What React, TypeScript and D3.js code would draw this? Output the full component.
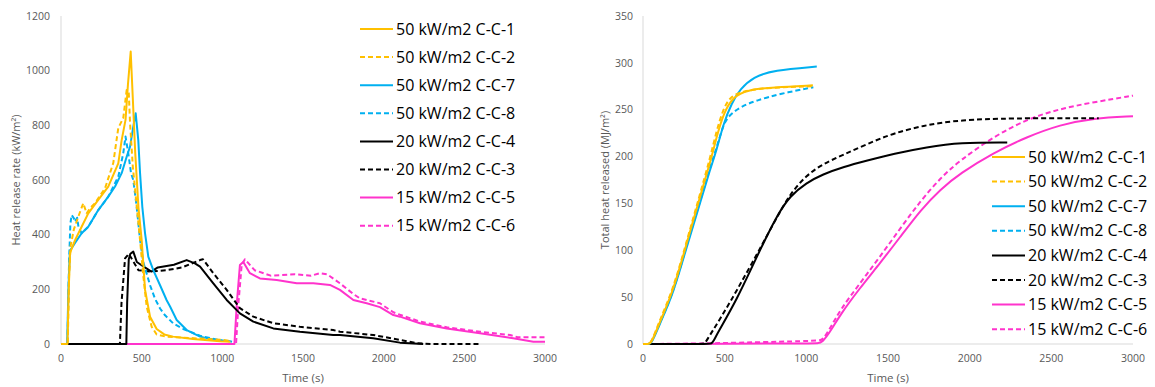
import React from "react";
import * as d3 from "d3";

type P = [number, number];

// Legend labels
const labels = [
  "50 kW/m2 C-C-1",
  "50 kW/m2 C-C-2",
  "50 kW/m2 C-C-7",
  "50 kW/m2 C-C-8",
  "20 kW/m2 C-C-4",
  "20 kW/m2 C-C-3",
  "15 kW/m2 C-C-5",
  "15 kW/m2 C-C-6",
];
const colors = ["#FFC000", "#FFC000", "#00B0F0", "#00B0F0", "#000000", "#000000", "#FF33CC", "#FF33CC"];
const dashed = [false, true, false, true, false, true, false, true];

// Heat release rate (kW/m2) vs time (s)
const hrrC1: P[] = [[0,0],[40,0],[48,200],[56,333],[87,380],[128,429],[169,478],[231,527],[293,576],[355,661],[376,746],[400,820],[415,950],[432,1070],[445,900],[460,700],[480,500],[500,381],[521,198],[552,100],[593,55],[640,35],[695,27],[818,18],[985,10],[1050,8]];
const hrrC2: P[] = [[0,0],[42,0],[50,250],[60,360],[80,420],[110,470],[138,515],[159,478],[185,500],[211,515],[273,570],[324,662],[355,790],[386,827],[407,929],[420,920],[428,808],[445,650],[470,500],[490,381],[510,250],[531,137],[562,63],[593,35],[650,27],[800,22],[1000,15],[1040,12]];
const hrrC7: P[] = [[0,0],[38,0],[46,200],[55,340],[87,370],[128,405],[169,429],[231,490],[293,539],[335,576],[376,625],[407,685],[428,722],[448,795],[463,844],[479,746],[490,625],[504,502],[521,405],[541,320],[572,270],[614,215],[655,160],[676,137],[717,88],[779,51],[862,27],[950,16],[1047,10],[1060,8]];
const hrrC8: P[] = [[0,0],[40,0],[50,300],[58,440],[66,472],[80,460],[87,447],[100,462],[108,429],[128,405],[169,429],[231,490],[293,539],[355,612],[386,698],[400,759],[417,698],[434,625],[448,600],[469,502],[490,381],[510,300],[552,215],[583,165],[614,130],[645,105],[696,75],[758,55],[862,30],[1000,12],[1040,10]];
const hrrC4: P[] = [[0,0],[405,0],[410,150],[420,310],[430,330],[448,338],[470,300],[520,280],[560,265],[600,280],[700,290],[779,307],[830,295],[862,283],[944,222],[1027,161],[1109,112],[1192,82],[1316,57],[1481,45],[1687,33],[1729,33],[1935,21],[2101,5],[2245,0]];
const hrrC3: P[] = [[0,0],[365,0],[375,150],[397,313],[420,330],[450,300],[480,270],[550,265],[650,270],[750,280],[862,307],[880,310],[944,259],[1027,198],[1109,131],[1192,100],[1316,76],[1481,63],[1687,51],[1729,45],[1935,33],[2101,15],[2204,3],[2300,0],[2600,0]];
const hrrC5: P[] = [[0,0],[1075,0],[1090,150],[1109,289],[1130,300],[1171,259],[1233,240],[1337,234],[1461,222],[1564,222],[1667,216],[1729,198],[1812,161],[1895,149],[1977,135],[2060,106],[2101,100],[2225,76],[2391,57],[2597,39],[2803,21],[2928,8],[3000,8]];
const hrrC6: P[] = [[0,0],[1085,0],[1100,150],[1120,290],[1140,310],[1200,270],[1300,250],[1450,255],[1550,250],[1605,259],[1650,255],[1729,222],[1812,183],[1853,167],[1977,149],[2060,116],[2101,107],[2225,82],[2391,61],[2597,45],[2783,33],[2830,25],[3000,25]];

// Total heat released (MJ/m2) vs time (s)
const thrC1: P[] = [[0,0],[30,0],[50,0],[104,24],[186,57],[268,108],[349,157],[410,193],[451,221],[492,246],[553,264],[635,271],[798,274],[1040,276]];
const thrC2: P[] = [[0,0],[30,0],[48,0],[104,26],[186,59],[268,110],[349,160],[410,198],[451,228],[490,250],[530,263],[600,270],[800,274],[1040,275]];
const thrC7: P[] = [[0,0],[32,0],[52,0],[104,22],[186,54],[268,104],[349,150],[410,186],[451,207],[492,235],[543,257],[594,272],[676,285],[798,292],[1064,296]];
const thrC8: P[] = [[0,0],[30,0],[50,0],[104,23],[186,55],[268,106],[349,152],[410,188],[451,210],[482,228],[512,242],[594,253],[696,260],[839,267],[1043,274]];
const thrC4: P[] = [[0,0],[400,0],[418,0],[435,4],[451,10],[574,47],[696,93],[819,137],[900,158],[1000,172],[1100,181],[1227,189],[1380,196],[1533,203],[1737,210],[1941,215],[2230,215]];
const thrC3: P[] = [[0,0],[360,0],[378,0],[400,7],[492,32],[655,82],[819,135],[900,160],[1000,180],[1100,192],[1227,202],[1380,214],[1533,225],[1737,234],[1941,239],[2247,241],[2790,241]];
const thrC5: P[] = [[0,0],[1000,0.5],[1075,1],[1094,1],[1150,14],[1206,31],[1329,60],[1450,86],[1574,114],[1700,143],[1820,165],[1941,182],[2145,204],[2350,221],[2554,234],[2757,241],[3000,243]];
const thrC6: P[] = [[0,0],[400,0.5],[700,2],[1000,3],[1080,4],[1100,4],[1150,18],[1206,36],[1329,65],[1450,93],[1574,123],[1696,152],[1820,177],[1941,196],[2145,221],[2350,240],[2554,251],[2757,258],[3000,265]];

const xTicks = [0, 500, 1000, 1500, 2000, 2500, 3000];
const hrrTicks = [0, 200, 400, 600, 800, 1000, 1200];
const thrTicks = [0, 50, 100, 150, 200, 250, 300, 350];

const hrrSeries = [hrrC1, hrrC2, hrrC7, hrrC8, hrrC4, hrrC3, hrrC5, hrrC6];
const thrSeries = [thrC1, thrC2, thrC7, thrC8, thrC4, thrC3, thrC5, thrC6];

const FONT = "'Open Sans', sans-serif";
const GREY = "#595959";

function Panel(props: {
  x0: number; x1: number; yMax: number; yTicks: number[]; series: P[][];
  title: string; titleX: number; labelX: number; curve: any;
  legX: number; legY: number; legStep: number;
}) {
  const { x0, x1, yMax, yTicks, series, title, titleX, labelX, curve, legX, legY, legStep } = props;
  const top = 16, bottom = 344;
  const x = d3.scaleLinear().domain([0, 3000]).range([x0, x1]);
  const y = d3.scaleLinear().domain([0, yMax]).range([bottom, top]);
  const line = d3.line<P>().x(d => x(d[0])).y(d => y(d[1])).curve(curve);
  const order = [6, 7, 4, 5, 2, 3, 0, 1];
  return (
    <g>
      <line x1={x0} x2={x0} y1={top} y2={bottom} stroke="#d9d9d9" strokeWidth={1} />
      <line x1={x0} x2={x1} y1={bottom} y2={bottom} stroke="#d9d9d9" strokeWidth={1} />
      {yTicks.map(t => (
        <text key={t} x={labelX} y={y(t)} dy="0.35em" textAnchor="end" fontSize={10.5} fill={GREY} fontFamily={FONT}>{t}</text>
      ))}
      {xTicks.map(t => (
        <text key={t} x={x(t)} y={358} dy="0.35em" textAnchor="middle" fontSize={10.5} fill={GREY} fontFamily={FONT}>{t}</text>
      ))}
      <text transform={`translate(${titleX},${(top + bottom) / 2}) rotate(-90)`} textAnchor="middle" dy="0.35em" fontSize={11} fill={GREY} fontFamily={FONT}>{title}</text>
      <text x={(x0 + x1) / 2} y={378} textAnchor="middle" dy="0.35em" fontSize={11.5} fill={GREY} fontFamily={FONT}>Time (s)</text>
      {order.map(i => (
        <path key={i} d={line(series[i]) || ""} fill="none" stroke={colors[i]} strokeWidth={2}
          strokeDasharray={dashed[i] ? "5,3" : undefined} strokeLinejoin="round" />
      ))}
      {labels.map((lab, i) => (
        <g key={lab} transform={`translate(${legX},${legY + i * legStep})`}>
          <line x1={0} x2={33} y1={0} y2={0} stroke={colors[i]} strokeWidth={2} strokeDasharray={dashed[i] ? "5,3" : undefined} />
          <text x={36} y={0} dy="0.35em" fontSize={16} fill="#000" fontFamily={FONT}>{lab}</text>
        </g>
      ))}
    </g>
  );
}

export default function App() {
  return (
    <svg width={1155} height={387} style={{ position: "absolute", left: 0, top: 0, background: "#fff" }}>
      <rect width={1155} height={387} fill="#fff" />
      <Panel x0={61} x1={545} yMax={1200} yTicks={hrrTicks} series={hrrSeries}
        title="Heat release rate (kW/m²)" titleX={16} labelX={50} curve={d3.curveLinear}
        legX={360} legY={29} legStep={28.1} />
      <Panel x0={643} x1={1133} yMax={350} yTicks={thrTicks} series={thrSeries}
        title="Total heat released (MJ/m²)" titleX={605} labelX={633} curve={d3.curveBasis}
        legX={992} legY={157} legStep={24.6} />
    </svg>
  );
}
